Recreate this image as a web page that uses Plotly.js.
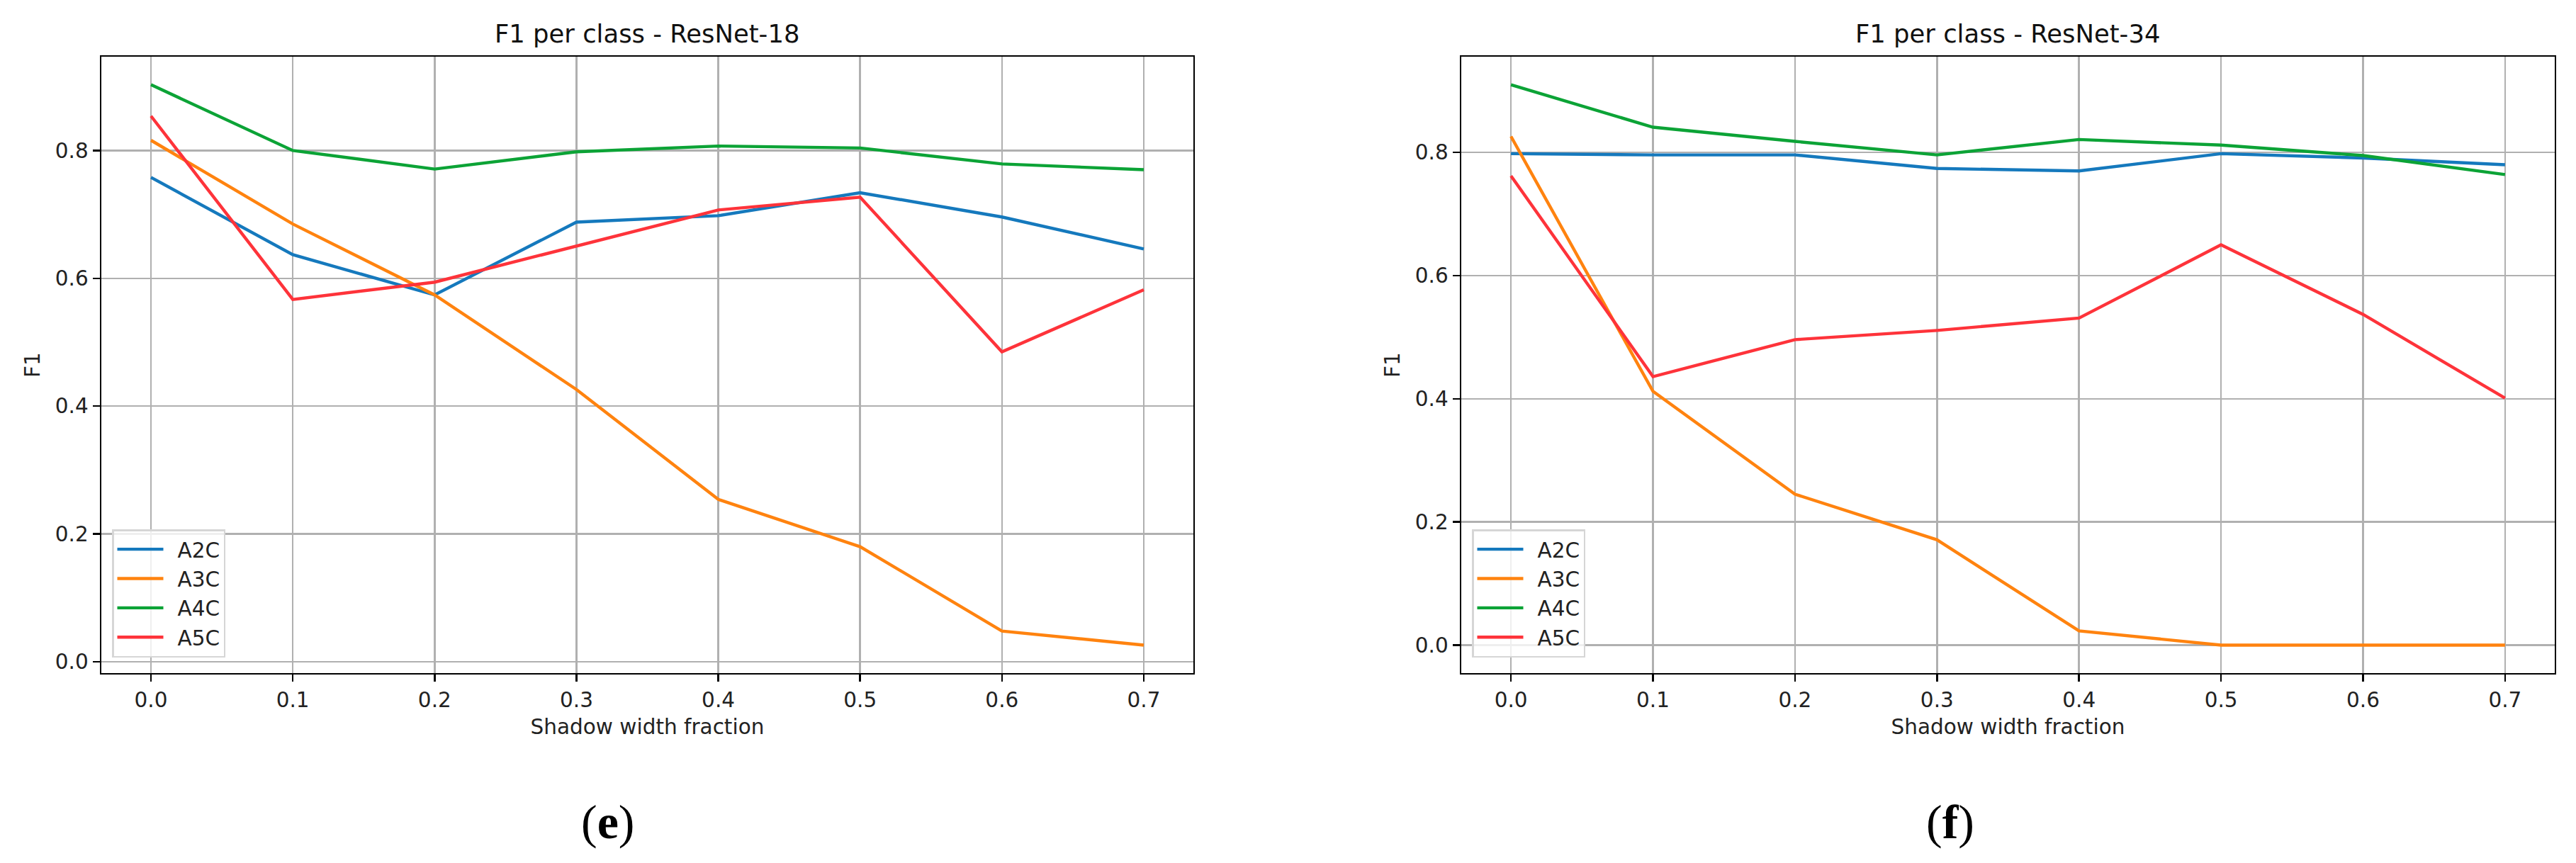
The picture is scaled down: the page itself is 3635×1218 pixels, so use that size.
<!DOCTYPE html>
<html>
<head>
<meta charset="utf-8">
<script src="https://cdn.plot.ly/plotly-3.0.1.min.js"></script>
<style>
  html, body { margin: 0; padding: 0; background: #ffffff; }
  #chart { width: 3635px; height: 1218px; }
</style>
</head>
<body>
<div id="chart"></div>
<script>
// ---- data ----
const shadowFraction = [0.0, 0.1, 0.2, 0.3, 0.4, 0.5, 0.6, 0.7];
const classNames = ["A2C", "A3C", "A4C", "A5C"];

// ResNet-18
const r18_A2C = [0.758, 0.637, 0.574, 0.688, 0.698, 0.734, 0.696, 0.646];
const r18_A3C = [0.816, 0.685, 0.574, 0.426, 0.254, 0.180, 0.048, 0.026];
const r18_A4C = [0.903, 0.800, 0.771, 0.798, 0.807, 0.804, 0.779, 0.770];
const r18_A5C = [0.854, 0.567, 0.594, 0.650, 0.707, 0.727, 0.485, 0.582];

// ResNet-34
const r34_A2C = [0.798, 0.796, 0.796, 0.774, 0.770, 0.798, 0.791, 0.780];
const r34_A3C = [0.826, 0.412, 0.245, 0.171, 0.023, 0.000, 0.000, 0.000];
const r34_A4C = [0.910, 0.841, 0.818, 0.796, 0.821, 0.812, 0.795, 0.764];
const r34_A5C = [0.762, 0.436, 0.496, 0.511, 0.531, 0.650, 0.537, 0.401];

const xTickVals = [0.0, 0.1, 0.2, 0.3, 0.4, 0.5, 0.6, 0.7];
const yTickVals = [0.0, 0.2, 0.4, 0.6, 0.8];

const panelTitles = ["F1 per class - ResNet-18", "F1 per class - ResNet-34"];
const panelLetters = ["e", "f"];
const xLabel = "Shadow width fraction";
const yLabel = "F1";

// ---- styling ----
const colors = ["#1579bd", "#ff830f", "#0ca336", "#fe333a"];
const W = 3635, H = 1218;
const FONT = "DejaVu Sans";
const fs = 29.5;

const r18 = [r18_A2C, r18_A3C, r18_A4C, r18_A5C];
const r34 = [r34_A2C, r34_A3C, r34_A4C, r34_A5C];

function autoRange(arr, pad) {
  const flat = [].concat(...arr);
  const lo = Math.min(...flat), hi = Math.max(...flat);
  const d = (hi - lo) * pad;
  return [lo - d, hi + d];
}

const traces = [];
[r18, r34].forEach((series, p) => {
  series.forEach((ys, i) => {
    traces.push({
      type: "scatter", mode: "lines",
      x: shadowFraction, y: ys,
      name: classNames[i],
      xaxis: p === 0 ? "x" : "x2",
      yaxis: p === 0 ? "y" : "y2",
      legend: p === 0 ? "legend" : "legend2",
      legendgroup: "g" + p + i,
      line: { color: colors[i], width: 4.4 },
      hoverinfo: "skip"
    });
  });
});

const xDom1 = [143 / W, 1684 / W];
const xDom2 = [2062 / W, 3605 / W];
const yDom = [(H - 950) / H, (H - 80) / H];

function xAxis(domain, anchor) {
  return {
    domain: domain, anchor: anchor,
    range: autoRange([shadowFraction], 0.05),
    tickmode: "array", tickvals: xTickVals, tickformat: ".1f",
    ticks: "outside", ticklen: 10, tickwidth: 2.4, tickcolor: "#000",
    showline: true, mirror: true, linecolor: "#000", linewidth: 2.4,
    showgrid: true, gridcolor: "#b0b0b0", gridwidth: 2.4, zeroline: false,
    tickfont: { family: FONT, size: fs, color: "#222" },
    title: { text: xLabel, font: { family: FONT, size: fs, color: "#222" }, standoff: 12 },
    automargin: false, fixedrange: true
  };
}
function yAxis(series, anchor) {
  return {
    domain: yDom, anchor: anchor,
    range: autoRange(series, 0.05),
    tickmode: "array", tickvals: yTickVals, tickformat: ".1f",
    ticks: "outside", ticklen: 10, tickwidth: 2.4, tickcolor: "#000",
    showline: true, mirror: true, linecolor: "#000", linewidth: 2.4,
    showgrid: true, gridcolor: "#b0b0b0", gridwidth: 2.4, zeroline: false,
    tickfont: { family: FONT, size: fs, color: "#222" },
    title: { text: yLabel, font: { family: FONT, size: fs, color: "#222" }, standoff: 13 },
    automargin: false, fixedrange: true
  };
}

function legendAt(xPx) {
  return {
    x: xPx / W, y: (H - 747) / H, xanchor: "left", yanchor: "top",
    bgcolor: "rgba(255,255,255,0.8)", bordercolor: "#d6d6d6", borderwidth: 2.5,
    font: { family: FONT, size: fs, color: "#222" },
    itemwidth: 80, tracegroupgap: 9, traceorder: "normal"
  };
}

const centers = [(xDom1[0] + xDom1[1]) / 2, (xDom2[0] + xDom2[1]) / 2];
const annotations = [];
centers.forEach((cx, p) => {
  annotations.push({
    xref: "paper", yref: "paper", x: cx, y: (H - 48) / H,
    xanchor: "center", yanchor: "middle", showarrow: false,
    text: panelTitles[p], font: { family: FONT, size: 35.4, color: "#111" }
  });
});
[858 / W, 2752 / W].forEach((cx, p) => {
  annotations.push({
    xref: "paper", yref: "paper", x: cx, y: (H - 1160) / H,
    xanchor: "center", yanchor: "middle", showarrow: false,
    text: "(<b>" + panelLetters[p] + "</b>)",
    font: { family: "Liberation Serif", size: 68, color: "#000" }
  });
});

const layout = {
  width: W, height: H,
  margin: { l: 0, r: 0, t: 0, b: 0, pad: 0 },
  paper_bgcolor: "#ffffff", plot_bgcolor: "#ffffff",
  font: { family: FONT, size: fs, color: "#222" },
  showlegend: true,
  xaxis: xAxis(xDom1, "y"),
  yaxis: yAxis(r18, "x"),
  xaxis2: xAxis(xDom2, "y2"),
  yaxis2: yAxis(r34, "x2"),
  legend: legendAt(158),
  legend2: legendAt(2077),
  annotations: annotations
};

Plotly.newPlot("chart", traces, layout, { displayModeBar: false, staticPlot: true }).then(gd => {
  // lengthen the legend line samples to match the reference handles
  gd.querySelectorAll(".legendlines path").forEach(p => p.setAttribute("d", "M5,0h65"));
});
</script>
</body>
</html>
